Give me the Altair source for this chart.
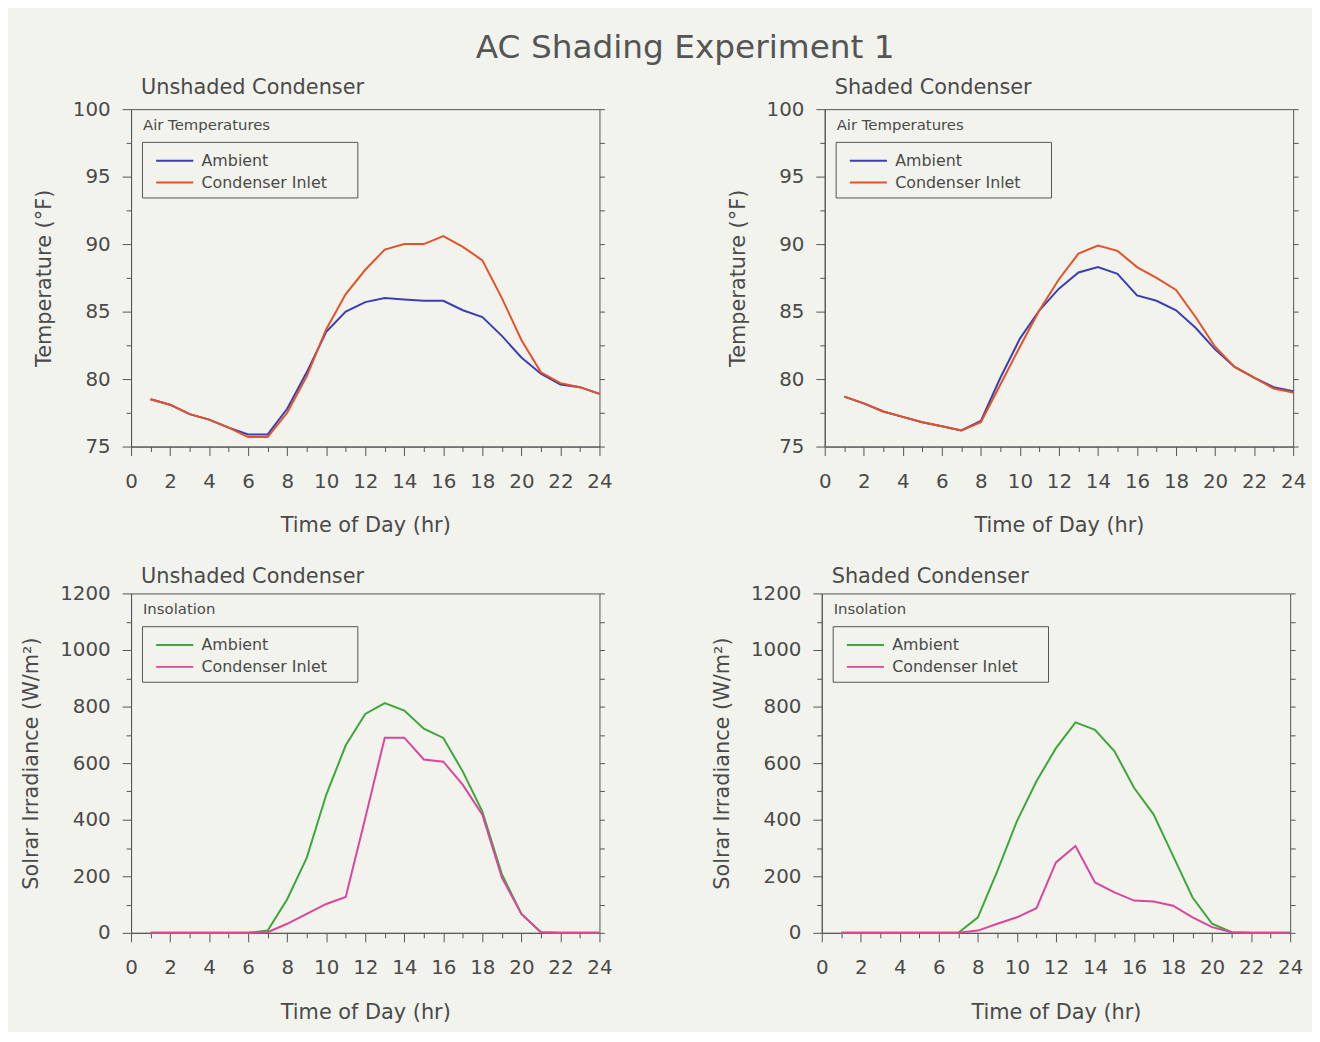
import altair as alt
import pandas as pd

hours = list(range(1, 25))
series_names = ["Ambient", "Condenser Inlet"]

# Top-left: Unshaded condenser air temperatures (°F)
unshaded_temp_ambient = [78.5, 78.1, 77.4, 77.0, 76.4, 75.9, 75.9, 77.8, 80.5, 83.5, 85.0, 85.7,
                         86.0, 85.9, 85.8, 85.8, 85.1, 84.6, 83.2, 81.6, 80.4, 79.6, 79.4, 78.9]
unshaded_temp_inlet = [78.5, 78.1, 77.4, 77.0, 76.4, 75.7, 75.7, 77.5, 80.2, 83.7, 86.3, 88.1,
                       89.6, 90.0, 90.0, 90.6, 89.8, 88.8, 86.0, 82.9, 80.5, 79.7, 79.4, 78.9]
# Top-right: Shaded condenser air temperatures (°F)
shaded_temp_ambient = [78.7, 78.2, 77.6, 77.2, 76.8, 76.5, 76.2, 76.9, 80.1, 83.0, 85.1, 86.7,
                       87.9, 88.3, 87.8, 86.2, 85.8, 85.1, 83.8, 82.2, 80.9, 80.1, 79.4, 79.1]
shaded_temp_inlet = [78.7, 78.2, 77.6, 77.2, 76.8, 76.5, 76.2, 76.8, 79.6, 82.4, 85.1, 87.4,
                     89.3, 89.9, 89.5, 88.3, 87.5, 86.6, 84.6, 82.4, 80.9, 80.1, 79.3, 79.0]
# Bottom-left: Unshaded condenser insolation (W/m²)
unshaded_sun_ambient = [0, 0, 0, 0, 0, 0, 8, 119, 265, 488, 663, 774,
                        812, 786, 722, 689, 570, 429, 207, 67, 2, 0, 0, 0]
unshaded_sun_inlet = [0, 0, 0, 0, 0, 0, 2, 32, 67, 102, 127, 406,
                      690, 690, 613, 605, 523, 418, 195, 67, 2, 0, 0, 0]
# Bottom-right: Shaded condenser insolation (W/m²)
shaded_sun_ambient = [0, 0, 0, 0, 0, 0, 0, 55, 219, 395, 536, 653,
                      744, 718, 642, 513, 419, 272, 125, 32, 2, 0, 0, 0]
shaded_sun_inlet = [0, 0, 0, 0, 0, 0, 0, 8, 32, 55, 87, 249,
                    307, 178, 143, 114, 111, 96, 55, 20, 2, 0, 0, 0]

x_ticks = list(range(0, 25))
temp_ticks = [75 + 2.5 * i for i in range(11)]
sun_ticks = list(range(0, 1201, 100))

TEMP_COLORS = ["#3b3fb3", "#e2522b"]
SUN_COLORS = ["#3ea63a", "#d9479d"]

FONT = "DejaVu Sans"
TXT = "#4a4a4a"
W = 472


def long_df(a, b):
    return pd.DataFrame({
        "hour": hours * 2,
        "value": a + b,
        "series": [series_names[0]] * 24 + [series_names[1]] * 24,
    })


def panel(title, df, colors, ydomain, yticks, ylabel_step, ytitle, legend_head, title_offset, h):
    x_enc = alt.X("hour:Q", scale=alt.Scale(domain=[0, 24], nice=False),
                  axis=alt.Axis(values=x_ticks, title="Time of Day (hr)",
                                labelExpr="datum.value % 2 === 0 ? datum.label : ''",
                                tickSize={"condition": {"test": "datum.value % 2 === 0", "value": 9}, "value": 5},
                                labelFlush=False, labelPadding=16, titlePadding=24))
    y_scale = alt.Scale(domain=ydomain, nice=False, zero=False)
    lines = alt.Chart(df).mark_line(strokeWidth=2).encode(
        x=x_enc,
        y=alt.Y("value:Q", scale=y_scale,
                axis=alt.Axis(values=yticks, title=ytitle,
                              labelExpr=f"datum.value % {ylabel_step} === 0 ? '' + datum.value : ''",
                              tickSize={"condition": {"test": f"datum.value % {ylabel_step} === 0", "value": 9}, "value": 5},
                              labelFlush=False, labelPadding=12, titlePadding=18)),
        color=alt.Color("series:N", scale=alt.Scale(domain=series_names, range=colors),
                        legend=alt.Legend(title=None, orient="none", legendX=11, legendY=33,
                                          strokeColor="#555", padding=7, rowPadding=2,
                                          symbolType="M-1.7,0L1.7,0", symbolSize=484,
                                          symbolStrokeWidth=2, symbolOffset=14,
                                          labelOffset=15, labelFontSize=16, labelLimit=400,
                                          labelExpr="datum.label + '\u2800\u2800'",
                                          labelColor=TXT, labelFont=FONT,
                                          fillColor="transparent")),
    )
    right = alt.Chart(df).mark_point(opacity=0).encode(
        y=alt.Y("value:Q", scale=y_scale,
                axis=alt.Axis(orient="right", values=yticks, labels=False, title=None, tickSize=5, domain=False)),
    )
    head = alt.Chart(pd.DataFrame({"t": [legend_head]})).mark_text(
        align="left", baseline="middle", fontSize=15, font=FONT, color=TXT
    ).encode(text="t:N", x=alt.value(12), y=alt.value(16))
    return alt.layer(lines, right, head).resolve_scale(y="independent").properties(
        width=W, height=h,
        title=alt.TitleParams(title, anchor="start", frame="group", dx=10, fontSize=21, font=FONT,
                              fontWeight="normal", color=TXT, offset=title_offset),
    )


p1 = panel("Unshaded Condenser", long_df(unshaded_temp_ambient, unshaded_temp_inlet), TEMP_COLORS,
           [75, 100], temp_ticks, 5, "Temperature (°F)", "Air Temperatures", 1, 340)
p2 = panel("Shaded Condenser", long_df(shaded_temp_ambient, shaded_temp_inlet), TEMP_COLORS,
           [75, 100], temp_ticks, 5, "Temperature (°F)", "Air Temperatures", 1, 340)
p3 = panel("Unshaded Condenser", long_df(unshaded_sun_ambient, unshaded_sun_inlet), SUN_COLORS,
           [0, 1200], sun_ticks, 200, "Solrar Irradiance (W/m²)", "Insolation", -3, 342)
p4 = panel("Shaded Condenser", long_df(shaded_sun_ambient, shaded_sun_inlet), SUN_COLORS,
           [0, 1200], sun_ticks, 200, "Solrar Irradiance (W/m²)", "Insolation", -3, 342)

chart = alt.vconcat(
    alt.hconcat(p1, p2, spacing=114).resolve_scale(color="independent"),
    alt.hconcat(p3, p4, spacing=98).resolve_scale(color="independent"),
    spacing=28,
).resolve_scale(color="independent").properties(
    title=alt.TitleParams("AC Shading Experiment 1", anchor="middle", fontSize=33, font=FONT,
                          fontWeight="normal", color="#555", dx=22, offset=12),
).configure(background="#f1f3ec", padding={"left": 12, "top": 20, "right": 5, "bottom": 5}).configure_view(
    stroke="#555", strokeWidth=1
).configure_axis(
    domainColor="#555", tickColor="#555", labelColor=TXT, titleColor=TXT,
    labelFont=FONT, titleFont=FONT, labelFontSize=20, titleFontSize=21,
    titleFontWeight="normal", grid=False,
)

chart.save("out.html", embed_options={"renderer": "svg", "actions": False})
